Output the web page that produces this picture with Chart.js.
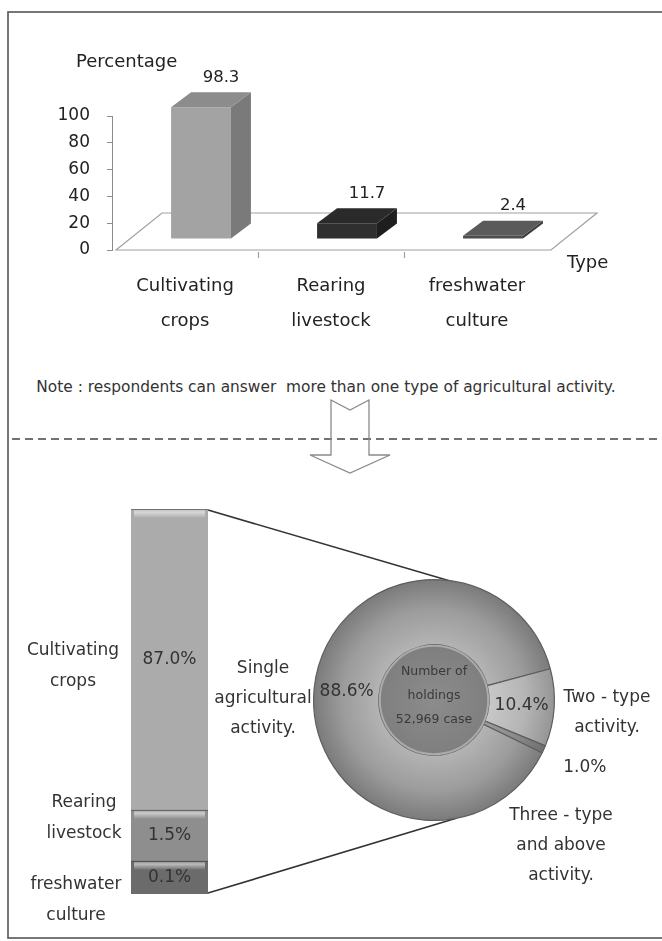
<!DOCTYPE html>
<html>
<head>
<meta charset="utf-8">
<script src="https://cdn.jsdelivr.net/npm/chart.js@4.4.1/dist/chart.umd.min.js"></script>
<style>
  html, body { margin: 0; padding: 0; background: #fff; }
  #page { position: relative; width: 662px; height: 941px; overflow: hidden; font-family: "DejaVu Sans", sans-serif; }
  #page canvas, #page svg, #page .txt { position: absolute; }
</style>
</head>
<body>
<div id="page">
  <svg width="662" height="941" style="left:0;top:0">
    <rect x="8" y="12" width="662" height="926" fill="none" stroke="#555" stroke-width="1.6"/>
    <line x1="12" y1="439" x2="662" y2="439" stroke="#444" stroke-width="1.5" stroke-dasharray="8 5"/>
    <polygon points="331,400 350,410 369,400 369,455 390,455 350,473 310,455 331,455" fill="none" stroke="#8a8a8a" stroke-width="1.3"/>
    <line x1="208" y1="510" x2="457" y2="583" stroke="#333" stroke-width="1.6"/>
    <line x1="208" y1="893" x2="457" y2="818" stroke="#333" stroke-width="1.6"/>
  </svg>
  <div class="txt" style="left:0;top:378px;width:652px;text-align:center;font-size:15.4px;color:#333;white-space:pre;">Note : respondents can answer  more than one type of agricultural activity.</div>
  <canvas id="typeChart" width="662" height="340" style="left:0;top:0"></canvas>
  <canvas id="singleChart" width="230" height="460" style="left:10px;top:480px"></canvas>
  <canvas id="holdChart" width="462" height="360" style="left:200px;top:540px"></canvas>
</div>

<script>
// data
var typeLabels = [['Cultivating', 'crops'], ['Rearing', 'livestock'], ['freshwater', 'culture']];
var typeValues = [98.3, 11.7, 2.4];
var percentTicks = [0, 20, 40, 60, 80, 100];

var singleLabels = [['freshwater', 'culture'], ['Rearing', 'livestock'], ['Cultivating', 'crops']];
var singleValues = [0.1, 1.5, 87.0];

var activityLabels = [['Single', 'agricultural', 'activity.'], ['Two - type', 'activity.'], ['Three - type', 'and above', 'activity.']];
var activityValues = [88.6, 10.4, 1.0];
var holdingsTotal = [52969];

var FONT = 'DejaVu Sans';
Chart.defaults.font.family = FONT;
Chart.defaults.color = '#222';

// ---- top chart: 3D bars ----
var depthX = 20, depthY = -15, shiftX = 16, shiftY = -11;
var frontColors = ['#a3a3a3', '#2f2f2f', '#4d4d4d'];
var sideColors = ['#7a7a7a', '#1e1e1e', '#3a3a3a'];
var topColors = ['#8c8c8c', '#2a2a2a', '#5a5a5a'];

var box3d = {
  id: 'box3d',
  beforeDatasetsDraw: function (chart) {
    var ctx = chart.ctx, a = chart.chartArea, x = chart.scales.x;
    ctx.save();
    ctx.strokeStyle = '#a0a0a0';
    ctx.lineWidth = 1.2;
    ctx.beginPath();
    ctx.moveTo(a.left + 4, a.bottom);
    ctx.lineTo(a.left + 50, a.bottom - 37);
    ctx.lineTo(a.right + 47, a.bottom - 37);
    ctx.lineTo(a.right + 1, a.bottom);
    ctx.closePath();
    ctx.stroke();
    // little marks between categories
    ctx.beginPath();
    for (var i = 1; i < typeValues.length; i++) {
      var px = Math.round(x.getPixelForValue(i - 0.5)) + 0.5;
      ctx.moveTo(px, a.bottom + 2);
      ctx.lineTo(px, a.bottom + 8);
    }
    ctx.stroke();
    ctx.restore();
  },
  beforeDatasetDraw: function (chart) {
    chart.ctx.save();
    chart.ctx.translate(shiftX, shiftY);
  },
  afterDatasetDraw: function (chart, args) {
    var ctx = chart.ctx;
    args.meta.data.forEach(function (bar, i) {
      var l = bar.x - bar.width / 2, r = bar.x + bar.width / 2, t = bar.y, b = bar.base;
      ctx.fillStyle = sideColors[i];
      ctx.beginPath();
      ctx.moveTo(r, t);
      ctx.lineTo(r + depthX, t + depthY);
      ctx.lineTo(r + depthX, b + depthY);
      ctx.lineTo(r, b);
      ctx.closePath();
      ctx.fill();
      ctx.fillStyle = topColors[i];
      ctx.beginPath();
      ctx.moveTo(l, t);
      ctx.lineTo(l + depthX, t + depthY);
      ctx.lineTo(r + depthX, t + depthY);
      ctx.lineTo(r, t);
      ctx.closePath();
      ctx.fill();
      ctx.fillStyle = '#222';
      ctx.font = '16.5px ' + FONT;
      ctx.textAlign = 'center';
      ctx.textBaseline = 'middle';
      ctx.fillText(typeValues[i].toFixed(1), bar.x + depthX, t + depthY - 15);
    });
    ctx.restore();
  },
  afterDraw: function (chart) {
    var ctx = chart.ctx, a = chart.chartArea;
    ctx.save();
    ctx.fillStyle = '#222';
    ctx.font = '18px ' + FONT;
    ctx.textBaseline = 'middle';
    ctx.textAlign = 'left';
    ctx.fillText('Percentage', 76, 62);
    ctx.fillText('Type', a.right + 17, a.bottom + 13);
    ctx.restore();
  }
};

new Chart(document.getElementById('typeChart'), {
  type: 'bar',
  data: {
    labels: typeLabels,
    datasets: [{
      data: typeValues,
      backgroundColor: frontColors,
      barPercentage: 0.41,
      categoryPercentage: 1,
      clip: false
    }]
  },
  options: {
    responsive: false,
    animation: false,
    devicePixelRatio: 1,
    events: [],
    layout: { padding: { top: 116, right: 112, left: 0, bottom: 0 } },
    plugins: { legend: { display: false }, tooltip: { enabled: false } },
    scales: {
      x: {
        grid: { display: false, drawTicks: false },
        border: { display: false },
        ticks: { padding: 19, font: { size: 18, lineHeight: '35px' }, color: '#222', maxRotation: 0, autoSkip: false },
        afterFit: function (s) { s.height = 90; }
      },
      y: {
        min: 0,
        max: 100,
        afterBuildTicks: function (s) { s.ticks = percentTicks.map(function (v) { return { value: v }; }); },
        ticks: { padding: 17, font: { size: 17 }, color: '#222' },
        grid: { drawOnChartArea: false, tickLength: 5, color: '#8c8c8c' },
        border: { color: '#8c8c8c' },
        afterFit: function (s) { s.width = 112; }
      }
    }
  },
  plugins: [box3d]
});

// ---- bottom left: single activity breakdown ----
var stackColors = ['#6b6b6b', '#8e8e8e', '#ababab'];
var stackMinPx = [33, 84, 0];
var sideLabelX = [66, 74, 63];
var sideLabelDy = [23, -17, 7];

var segmentLabels = {
  id: 'segmentLabels',
  afterDatasetsDraw: function (chart) {
    var ctx = chart.ctx;
    ctx.save();
    singleValues.forEach(function (v, i) {
      var el = chart.getDatasetMeta(i).data[0];
      var lower = i === 0 ? el.base : chart.getDatasetMeta(i - 1).data[0].y;
      var l = el.x - el.width / 2;
      // shine on top of each piece
      var g = ctx.createLinearGradient(0, el.y, 0, el.y + 9);
      g.addColorStop(0, 'rgba(255,255,255,0.15)');
      g.addColorStop(0.35, 'rgba(255,255,255,0.55)');
      g.addColorStop(1, 'rgba(255,255,255,0)');
      ctx.fillStyle = g;
      ctx.fillRect(l + 3, el.y + 1, el.width - 6, 9);
      ctx.strokeStyle = 'rgba(60,60,60,0.5)';
      ctx.lineWidth = 1;
      ctx.beginPath();
      ctx.moveTo(l, Math.round(el.y) + 0.5);
      ctx.lineTo(l + el.width, Math.round(el.y) + 0.5);
      ctx.stroke();
      var mid = (el.y + lower) / 2;
      ctx.fillStyle = '#333';
      ctx.font = '17px ' + FONT;
      ctx.textAlign = 'center';
      ctx.textBaseline = 'middle';
      ctx.fillText(v.toFixed(1) + '%', el.x, mid);
      var lines = singleLabels[i];
      lines.forEach(function (s, k) {
        ctx.fillText(s, sideLabelX[i], mid + sideLabelDy[i] + (k - (lines.length - 1) / 2) * 31);
      });
    });
    ctx.restore();
  }
};

new Chart(document.getElementById('singleChart'), {
  type: 'bar',
  data: {
    labels: ['Single agricultural activity'],
    datasets: singleValues.map(function (v, i) {
      return {
        label: singleLabels[i].join(' '),
        data: [v],
        backgroundColor: stackColors[i],
        minBarLength: stackMinPx[i],
        barPercentage: 1,
        categoryPercentage: 1
      };
    })
  },
  options: {
    responsive: false,
    animation: false,
    devicePixelRatio: 1,
    events: [],
    layout: { padding: { left: 121, right: 32, top: 29, bottom: 46 } },
    plugins: { legend: { display: false }, tooltip: { enabled: false } },
    scales: {
      x: { display: false, stacked: true },
      y: { display: false, stacked: false, min: 0, max: Math.max.apply(null, singleValues) }
    }
  },
  plugins: [segmentLabels]
});

// ---- bottom right: holdings by number of activities ----
var sliceShades = [['#b4b4b4', '#9c9c9c', '#7a7a7a'], ['#c8c8c8', '#b5b5b5', '#959595'], ['#9c9c9c', '#8a8a8a', '#6e6e6e']];
var hubShades = ['#8c8c8c', '#7c7c7c', '#6c6c6c'];
var catOffsets = [{ dx: -171, dy: -1 }, { dx: 173, dy: 13 }, { dx: 127, dy: 146 }];

function radial(c, shades, r0) {
  var a = c.chart.chartArea;
  if (!a) return shades[1];
  var cx = (a.left + a.right) / 2, cy = (a.top + a.bottom) / 2, r = (a.right - a.left) / 2;
  var g = c.chart.ctx.createRadialGradient(cx, cy, r * r0, cx, cy, r);
  g.addColorStop(0, shades[0]);
  g.addColorStop(0.55, shades[1]);
  g.addColorStop(1, shades[2]);
  return g;
}

var pieLabels = {
  id: 'pieLabels',
  afterDatasetsDraw: function (chart) {
    // light rim round the hub
    var hub = chart.getDatasetMeta(1).data[0];
    var ctx = chart.ctx;
    ctx.save();
    ctx.strokeStyle = '#ababab';
    ctx.lineWidth = 2;
    ctx.beginPath();
    ctx.arc(hub.x, hub.y, hub.outerRadius - 1, 0, Math.PI * 2);
    ctx.stroke();
    ctx.restore();
  },
  afterDraw: function (chart) {
    var ctx = chart.ctx;
    var arcs = chart.getDatasetMeta(0).data;
    var cx = arcs[0].x, cy = arcs[0].y;
    ctx.save();
    ctx.textAlign = 'center';
    ctx.textBaseline = 'middle';
    ctx.font = '17px ' + FONT;
    ctx.fillStyle = '#333';
    arcs.forEach(function (arc, i) {
      var p;
      if (arc.endAngle - arc.startAngle > 0.2) {
        p = arc.tooltipPosition();
      } else {
        var m = (arc.startAngle + arc.endAngle) / 2;
        p = { x: cx + Math.cos(m) * (arc.outerRadius + 45), y: cy + Math.sin(m) * (arc.outerRadius + 45) };
      }
      ctx.fillText(activityValues[i].toFixed(1) + '%', p.x, p.y);
      var lines = activityLabels[i];
      lines.forEach(function (s, k) {
        ctx.fillText(s, cx + catOffsets[i].dx, cy + catOffsets[i].dy + (k - (lines.length - 1) / 2) * 30);
      });
    });
    ctx.font = '12.5px ' + FONT;
    ctx.fillStyle = '#3a3a3a';
    ctx.fillText('Number of', cx, cy - 28);
    ctx.fillText('holdings', cx, cy - 4);
    ctx.fillText(holdingsTotal[0].toLocaleString('en-US') + ' case', cx, cy + 20);
    ctx.restore();
  }
};

new Chart(document.getElementById('holdChart'), {
  type: 'pie',
  data: {
    labels: activityLabels.map(function (l) { return l.join(' '); }),
    datasets: [{
      data: activityValues,
      backgroundColor: function (c) { return radial(c, sliceShades[c.dataIndex], 0.45); },
      borderColor: '#5e5e5e',
      borderWidth: 1.2,
      weight: 65
    }, {
      data: holdingsTotal,
      backgroundColor: function (c) { return radial(c, hubShades, 0); },
      borderWidth: 0,
      weight: 55
    }]
  },
  options: {
    responsive: false,
    animation: false,
    devicePixelRatio: 1,
    events: [],
    rotation: 116,
    layout: { padding: { left: 113, right: 107, top: 39, bottom: 79 } },
    plugins: { legend: { display: false }, tooltip: { enabled: false } }
  },
  plugins: [pieLabels]
});
</script>
</body>
</html>
